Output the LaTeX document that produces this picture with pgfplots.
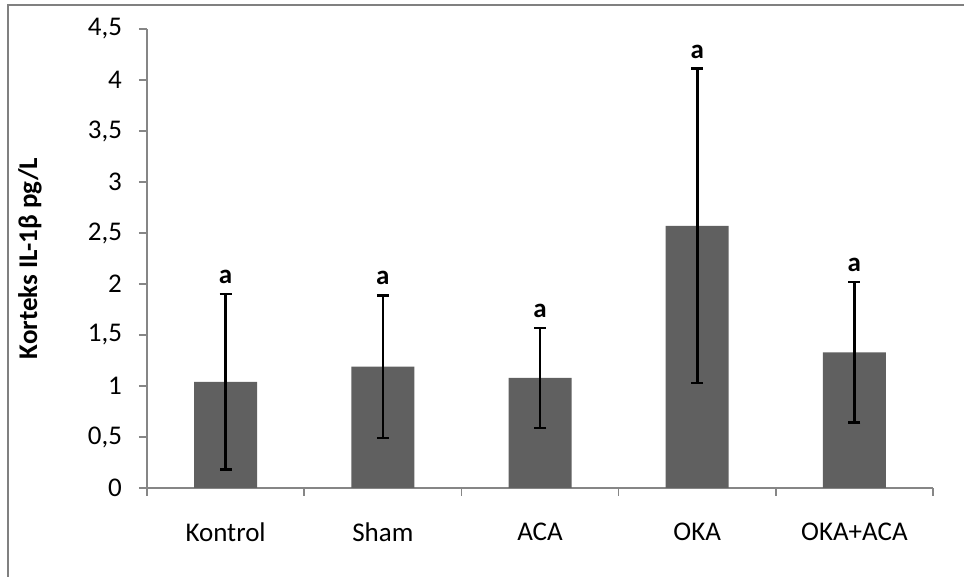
\documentclass[border=0pt]{standalone}
\usepackage{fontspec}
\setmainfont{Carlito}
\usepackage{pgfplots}
\pgfplotsset{compat=1.18}
\definecolor{barcol}{HTML}{606060}
\definecolor{axgray}{HTML}{868686}
\definecolor{framegray}{HTML}{808080}
\newcommand{\lblfont}{\fontsize{13.5}{16}\selectfont}
\begin{document}
\begin{tikzpicture}
\useasboundingbox (0,0) rectangle (482pt,288.5pt);
\draw[framegray, line width=1.1pt] (4pt,0) -- (4pt,286pt) -- (482pt,286pt);
\begin{axis}[
  at={(73.5pt,44.5pt)}, anchor=south west,
  scale only axis, width=393pt, height=229.5pt,
  xmin=0, xmax=5, ymin=0, ymax=4.5,
  axis x line=bottom, axis y line=left,
  axis line style={axgray, line width=0.75pt, -},
  tick align=outside,
  ytick={0,0.5,...,4.5},
  ytick style={axgray, line width=0.75pt},
  major tick length=4pt,
  /pgf/number format/assume math mode=true,
  /pgf/number format/use comma,
  /pgf/number format/fixed,
  yticklabel style={font=\lblfont, xshift=-5pt},
  xtick={0.5,1.5,2.5,3.5,4.5},
  xticklabels={Kontrol,Sham,ACA,OKA,OKA+ACA},
  xtick style={draw=none},
  xticklabel style={font=\lblfont, yshift=-10pt},
  extra x ticks={0,1,2,3,4,5},
  extra x tick labels={},
  extra x tick style={xtick style={draw=axgray, line width=0.75pt}},
  ylabel={\textbf{Korteks IL-1β pg/L}},
  ylabel style={font=\lblfont, at={(axis description cs:-0.1489,0.5)}, anchor=center},
  clip=false,
]
\addplot[ybar, bar width=31.5pt, fill=barcol, draw=none,
  error bars/.cd, y dir=both, y explicit,
  error bar style={line width=1.3pt, black},
  error mark options={rotate=90, mark size=3pt, line width=1.3pt, black}]
  coordinates {
  (0.5,1.04) +- (0,0.86)
  (1.5,1.19) +- (0,0.70)
  (2.5,1.08) +- (0,0.49)
  (3.5,2.57) +- (0,1.54)
  (4.5,1.33) +- (0,0.69)
  };
\addplot[draw=none, mark=none, nodes near coords={\textbf{a}},
  every node near coord/.style={font=\lblfont, anchor=south, yshift=1.5pt}]
  coordinates {
  (0.5,1.90)
  (1.5,1.89)
  (2.5,1.57)
  (3.5,4.11)
  (4.5,2.02)
  };
\end{axis}
\end{tikzpicture}
\end{document}
